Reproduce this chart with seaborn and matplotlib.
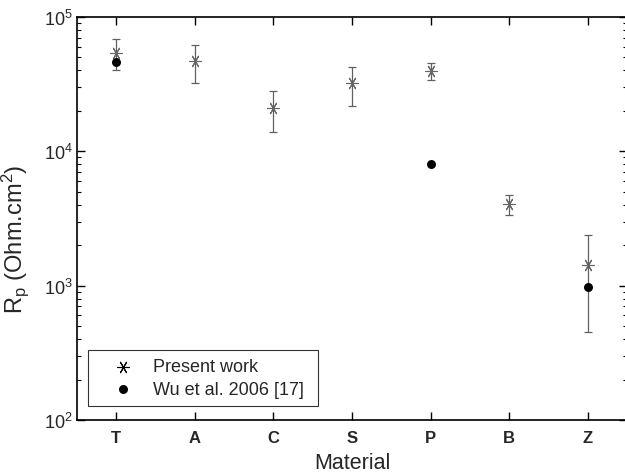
import numpy as np
import pandas as pd
import matplotlib
matplotlib.use("Agg")
import matplotlib.pyplot as plt
import seaborn as sns

materials = ["T", "A", "C", "S", "P", "B", "Z"]
present_rp = [54000, 47300, 20900, 32100, 39800, 4060, 1420]
present_err = [14000, 15000, 7000, 10300, 6000, 700, 970]
wu_materials = ["T", "P", "Z"]
wu_rp = [46000, 8000, 970]

sns.set_theme(style="ticks")
plt.rcParams["font.family"] = ["Liberation Sans", "DejaVu Sans"]
plt.rcParams["mathtext.default"] = "regular"

fig = plt.figure(figsize=(6.25, 4.77), dpi=100)
ax = fig.add_axes([77/625, 1-421/477, 550/625, (421-18)/477])

df_present = pd.DataFrame({"Material": materials, "Rp": present_rp, "err": present_err})
df_wu = pd.DataFrame({"Material": wu_materials, "Rp": wu_rp})

ax.errorbar(df_present["Material"], df_present["Rp"], yerr=df_present["err"],
            fmt="none", ecolor="#606060", elinewidth=0.9, capsize=3.2, capthick=0.9, zorder=2)
sns.scatterplot(data=df_present, x="Material", y="Rp", ax=ax, marker=(6, 2, 90),
                s=75, color="#666666", linewidth=0.8, label="Present work", zorder=3)
sns.scatterplot(data=df_wu, x="Material", y="Rp", ax=ax, marker="o",
                s=42, color="black", edgecolor="black", linewidth=0, label="Wu et al. 2006 [17]", zorder=4)

ax.set_yscale("log")
ax.set_ylim(1e2, 1e5)
ax.set_xlim(-0.5, 6.5)

ax.set_xlabel("Material", fontsize=15.5, labelpad=5)
ax.set_ylabel(r"R$_{p}$ (Ohm.cm$^{2}$)", fontsize=17)
ax.yaxis.set_label_coords(-0.083, 0.45)

ax.tick_params(axis="both", which="both", direction="in", top=True, right=True)
ax.tick_params(axis="both", which="major", length=5.5, width=1.0, color="black")
ax.tick_params(axis="y", which="minor", length=3, width=0.8, color="black")
ax.tick_params(axis="x", labelsize=12, pad=7)
ax.tick_params(axis="y", labelsize=13, pad=3)
for lbl in ax.get_xticklabels():
    lbl.set_fontweight("bold")
for sp in ax.spines.values():
    sp.set_linewidth(1.2)
    sp.set_color("black")

leg = ax.legend(loc="lower left", bbox_to_anchor=(0.02, 0.035, (318-88)/550, 0.1),
                mode="expand", borderaxespad=0,
                fontsize=13, frameon=True, fancybox=False, edgecolor="black",
                handlelength=3.0, handletextpad=0.15, borderpad=0.45, labelspacing=0.3)
leg.get_frame().set_linewidth(0.8)
for h in leg.legend_handles:
    h.set_color("black")

fig.savefig("out.png", dpi=100)
